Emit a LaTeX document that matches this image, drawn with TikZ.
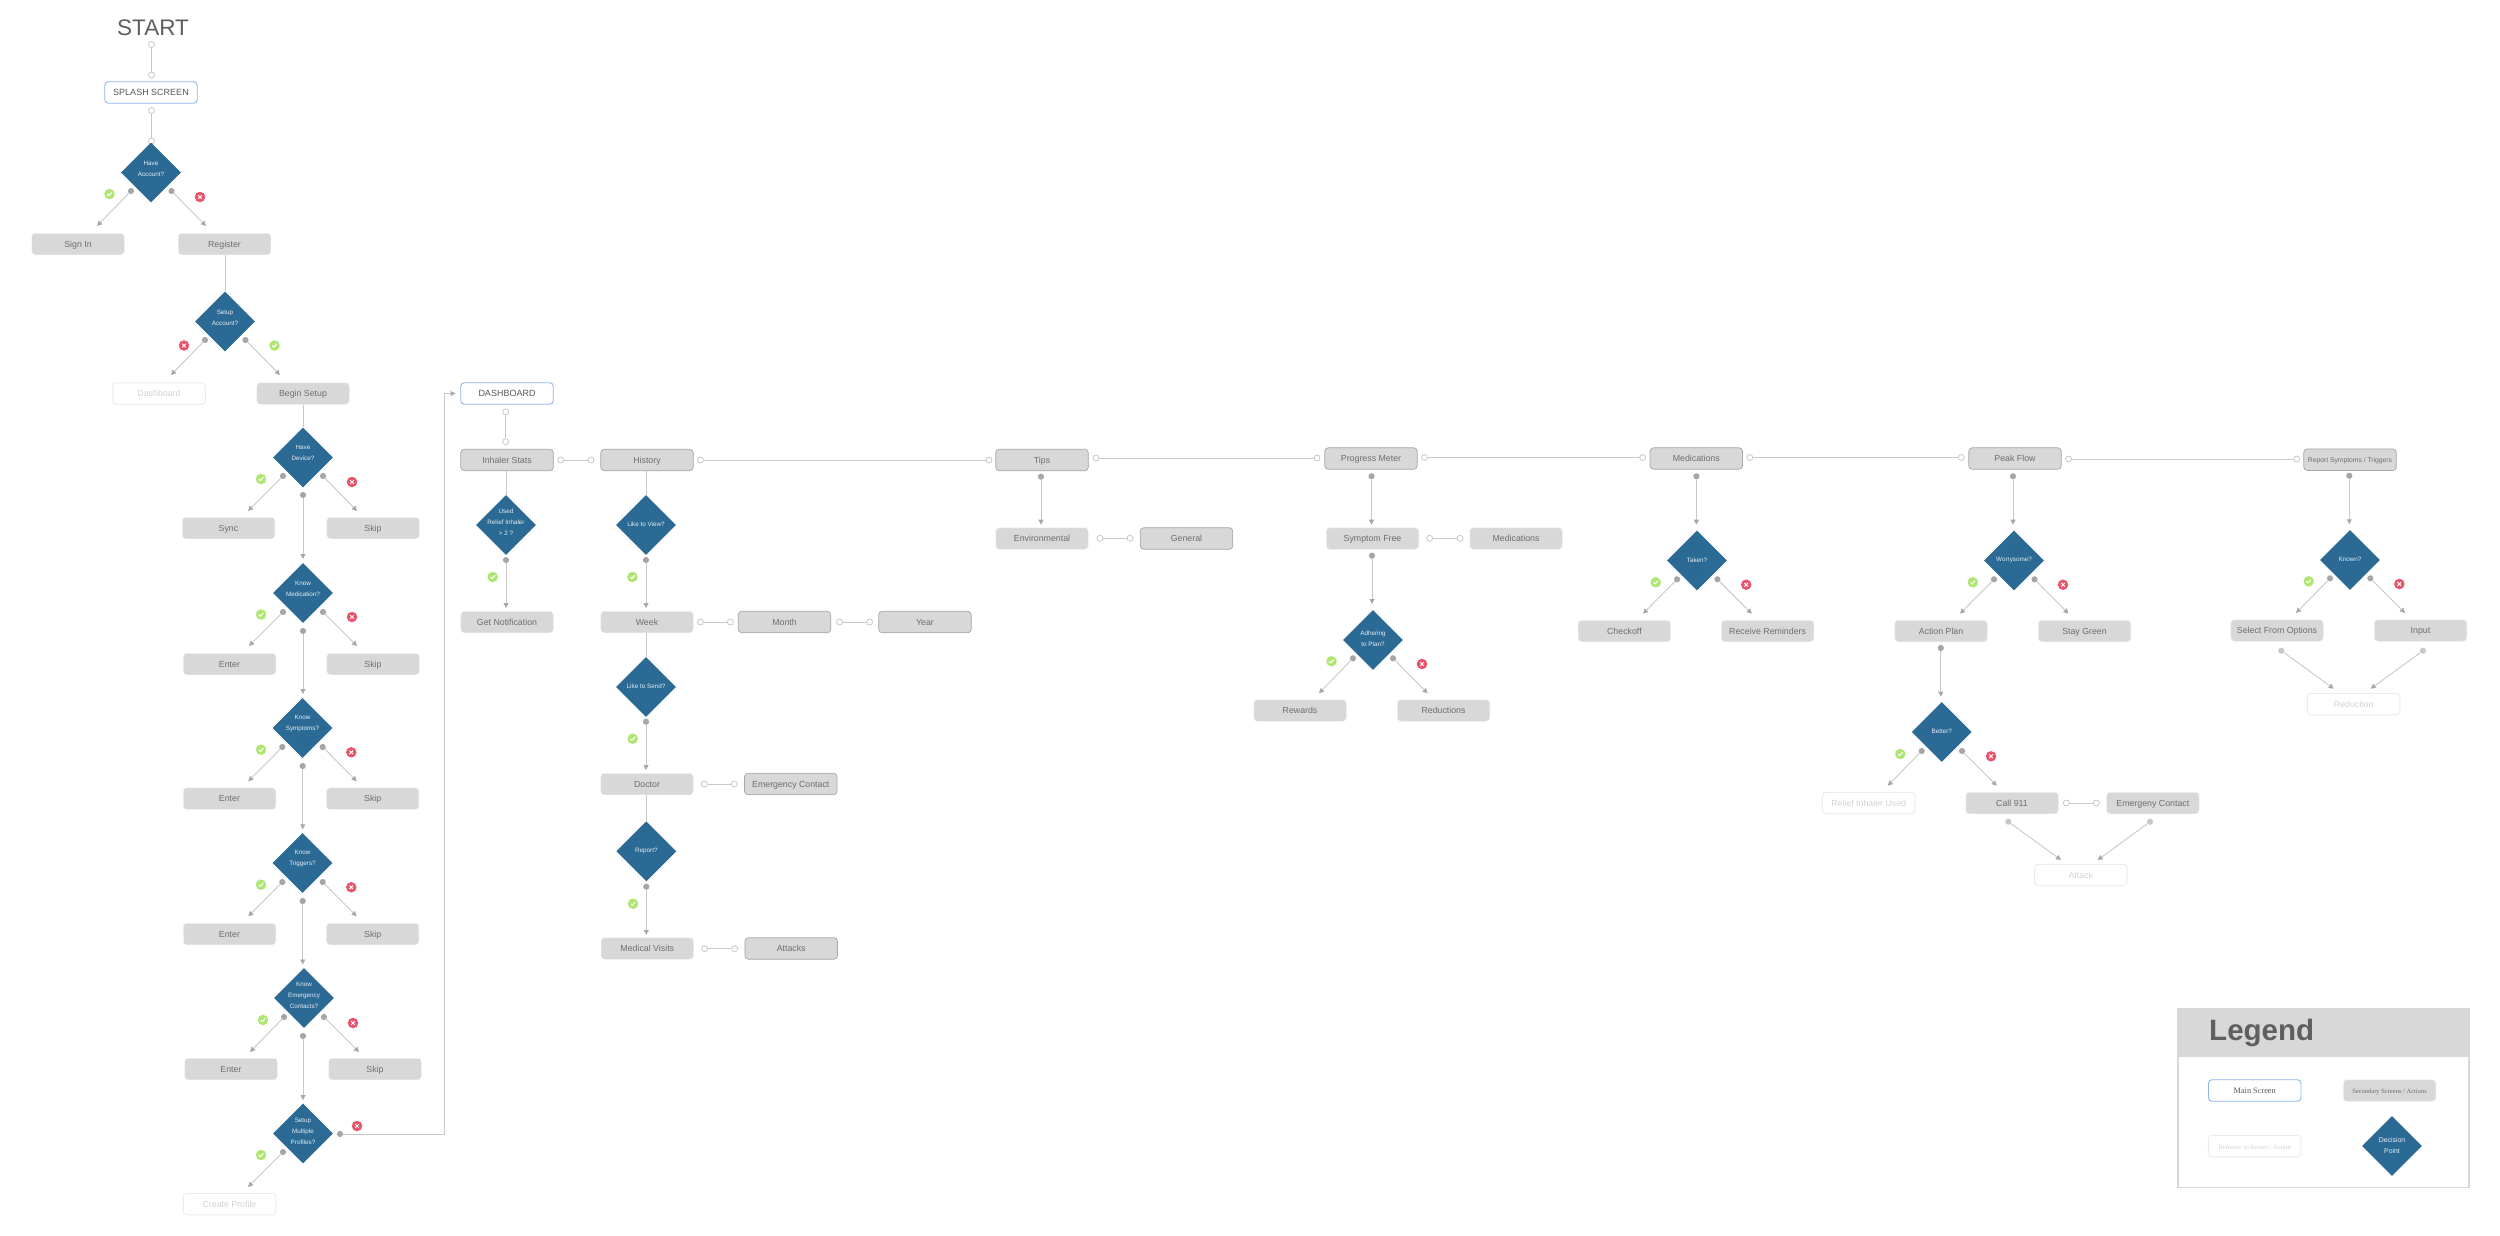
\documentclass[tikz,border=0pt]{standalone}
\usepackage{fontspec}
\setmainfont{Liberation Sans}
\newfontfamily\timesf{Liberation Serif}
\usetikzlibrary{shapes.geometric,arrows.meta}
\definecolor{boxfill}{HTML}{D8D8D8}
\definecolor{txt}{HTML}{6E6E6E}
\definecolor{reftxt}{HTML}{D2D2D2}
\definecolor{refedge}{HTML}{ECECEC}
\definecolor{mainedge}{HTML}{8FB5F2}
\definecolor{outedge}{HTML}{A6A6A6}
\definecolor{decfill}{HTML}{2B6A94}
\definecolor{dectxt}{HTML}{E4EEF5}
\definecolor{linec}{HTML}{C8C8C8}
\definecolor{tipc}{HTML}{A8A8A8}
\definecolor{dotc}{HTML}{A6A6A6}
\definecolor{dotlight}{HTML}{C8C8C8}
\definecolor{okc}{HTML}{AEE573}
\definecolor{noc}{HTML}{E9536B}
\definecolor{heading}{HTML}{5F5F5F}
\tikzset{
  boxbase/.style={rounded corners=3.5pt,minimum width=92.5pt,minimum height=21.5pt,inner sep=0pt,text height=7.5pt,text depth=1.5pt,font=\fontsize{8.8}{10}\selectfont},
  sbox/.style={boxbase,fill=boxfill,draw=boxfill!40!white,line width=0.5pt,text=txt},
  obox/.style={boxbase,fill=boxfill,draw=outedge,line width=0.7pt,text=txt},
  mbox/.style={boxbase,fill=white,draw=mainedge,line width=0.9pt,text=txt!80!black},
  rbox/.style={boxbase,fill=white,draw=refedge,line width=1pt,text=reftxt},
  dec/.style={diamond,shape aspect=1,fill=decfill,minimum width=60pt,minimum height=60pt,inner sep=0pt},
  declab/.style={align=center,text=dectxt,inner sep=0pt,font=\fontsize{6.3}{11}\selectfont},
  openpin/.style={circle,draw=linec,fill=white,line width=0.8pt,minimum size=6pt,inner sep=0pt},
  fullpin/.style={circle,fill=dotc,minimum size=6.2pt,inner sep=0pt},
  lightpin/.style={circle,fill=dotlight,minimum size=6.2pt,inner sep=0pt},
  plainlink/.style={draw=linec,line width=0.9pt},
  flow/.style={draw=linec,line width=0.9pt,-{Triangle[length=5pt,width=5pt,color=tipc]}},
  okdisc/.style={circle,fill=okc,minimum size=10.5pt,inner sep=0pt},
  nodisc/.style={circle,fill=noc,minimum size=10.5pt,inner sep=0pt},
  markline/.style={draw=white,line width=1pt}
}
% decision diamond: optional argument lifts the label
\newcommand{\decis}[5][0]{\node[dec,label={[declab,yshift=#1pt]center:{#5}}] (#2) at (#3,#4) {};}
% two open pins and their link
\newcommand{\olink}[6]{\node[openpin] (#1) at (#2,#3) {};\node[openpin] (#4) at (#5,#6) {};\draw[plainlink] (#1) -- (#4);}
% filled pin with arrow to a free end
\newcommand{\farrow}[5]{\node[fullpin] (#1) at (#2,#3) {};\coordinate (#1t) at (#4,#5);\draw[flow] (#1) -- (#1t);}
\newcommand{\larrow}[5]{\node[lightpin] (#1) at (#2,#3) {};\coordinate (#1t) at (#4,#5);\draw[flow] (#1) -- (#1t);}
\newcommand{\okmark}[3]{\node[okdisc] (#1) at (#2,#3) {};\draw[markline] ([shift={(-2.3,0)}]#1.center) -- ([shift={(-0.7,1.6)}]#1.center) -- ([shift={(2.4,-1.7)}]#1.center);}
\newcommand{\nomark}[3]{\node[nodisc] (#1) at (#2,#3) {};\draw[markline] ([shift={(-1.8,-1.8)}]#1.center) -- ([shift={(1.8,1.8)}]#1.center) ([shift={(-1.8,1.8)}]#1.center) -- ([shift={(1.8,-1.8)}]#1.center);}
\begin{document}
\begin{tikzpicture}[x=1pt,y=-1pt]
\useasboundingbox (0,0) rectangle (2500,1236);
% ---------- onboarding column
\node[text=heading,inner sep=0pt,font=\fontsize{22.5}{24}\selectfont] (start) at (153,28) {START};
\olink{sa}{151.5}{44.5}{sb}{151.5}{75}
\node[mbox,font=\fontsize{9}{10}\selectfont] (splash) at (151,92.5) {SPLASH SCREEN};
\olink{sc}{151.5}{110.5}{sd}{151.5}{141}
\decis[4]{haveacc}{151}{172.5}{Have\\Account?}
\farrow{ha1}{131}{191}{97}{226}
\farrow{ha2}{171.5}{191}{206}{226}
\okmark{ha3}{109.5}{194}
\nomark{ha4}{200}{197}
\node[sbox] (signin) at (78,244) {Sign In};
\node[sbox] (register) at (224.5,244) {Register};
\decis[4]{setupacc}{225}{321.5}{Setup\\Account?}
\draw[plainlink] (setupacc.north |- register.south) -- (setupacc.north);
\farrow{sa1}{205}{340}{171}{375}
\farrow{sa2}{245.5}{340}{280}{375}
\nomark{sa3}{184}{345.5}
\okmark{sa4}{274.5}{345.5}
\node[rbox] (dashref) at (159,393.5) {Dashboard};
\node[sbox] (begin) at (303,393.5) {Begin Setup};
\decis[4.5]{havedev}{303}{457.5}{Have\\Device?}
\draw[plainlink] (havedev.north |- begin.south) -- (havedev.north);
\farrow{hd1}{283}{476}{248}{511}
\farrow{hd2}{323}{476}{357}{511}
\farrow{hd3}{303}{495}{303}{559}
\okmark{hd4}{261}{479}
\nomark{hd5}{352}{482}
\node[sbox] (sync) at (228.5,528) {Sync};
\node[sbox] (skip1) at (373,528) {Skip};
% know medication
\decis[4.5]{kmed}{303}{593}{Know\\Medication?}
\farrow{km1}{283}{612}{249}{646}
\farrow{km2}{323}{612}{357}{646}
\farrow{km3}{303}{631}{303}{694}
\okmark{km4}{261}{614.5}
\nomark{km5}{352}{617}
\node[sbox] (enter2) at (229.5,664) {Enter};
\node[sbox] (skip2) at (373,664) {Skip};
% know symptoms
\decis[4.5]{ksym}{302.5}{728}{Know\\Symptoms?}
\farrow{ks1}{282.3}{747}{248.3}{781.3}
\farrow{ks2}{322.7}{747}{356.7}{781.3}
\farrow{ks3}{302.7}{766}{302.7}{829.3}
\okmark{ks4}{261}{749.7}
\nomark{ks5}{351.3}{752.3}
\node[sbox] (enter3) at (229.5,798.7) {Enter};
\node[sbox] (skip3) at (372.7,798.7) {Skip};
% know triggers
\decis[4.5]{ktrg}{302.5}{863}{Know\\Triggers?}
\farrow{kt1}{282.3}{882}{248.3}{916.3}
\farrow{kt2}{322.7}{882}{356.7}{916.3}
\farrow{kt3}{302.7}{901}{302.7}{964.5}
\okmark{kt4}{261}{884.7}
\nomark{kt5}{351.3}{887.3}
\node[sbox] (enter4) at (229.5,934) {Enter};
\node[sbox] (skip4) at (372.7,934) {Skip};
% know emergency contacts
\decis[2.5]{kemg}{304}{998}{Know\\Emergency\\Contacts?}
\farrow{ke1}{284}{1017}{250}{1052}
\farrow{ke2}{324}{1017}{359}{1052}
\farrow{ke3}{303}{1036}{303}{1100}
\okmark{ke4}{263}{1020}
\nomark{ke5}{353}{1023}
\node[sbox] (enter5) at (231,1069) {Enter};
\node[sbox] (skip5) at (375,1069) {Skip};
% multiple profiles
\decis[2.5]{multi}{303}{1133.5}{Setup\\Multiple\\Profiles?}
\farrow{mp1}{283}{1152}{248}{1187}
\okmark{mp2}{261}{1155}
\nomark{mp3}{357}{1126}
\node[rbox] (create) at (229.5,1204) {Create Profile};
\node[fullpin] (mp4) at (340,1134) {};
\coordinate (mp5) at (444.5,1134);
\coordinate (mp6) at (444.5,393.5);
\coordinate (mp7) at (455.5,393.5);
\draw[flow] (mp4) -- (mp5) -- (mp6) -- (mp7);
% ---------- dashboard
\node[mbox,font=\fontsize{9}{10}\selectfont] (dash) at (507,393.5) {DASHBOARD};
\olink{da}{505.7}{411.7}{db}{505.7}{441.7}
\node[obox] (inh) at (507,460) {Inhaler Stats};
\decis[2.5]{used}{506}{525}{Used\\Relief Inhaler\\> 2 ?}
\draw[plainlink] (used.north |- inh.south) -- (used.north);
\farrow{us1}{506}{560}{506}{608}
\okmark{us2}{492.7}{577}
\node[sbox] (notif) at (507,622) {Get Notification};
\olink{ia}{560.7}{460}{ib}{591}{460}
% history
\node[obox] (hist) at (647,460) {History};
\decis[0.7]{view}{646}{525}{Like to View?}
\draw[plainlink] (view.north |- hist.south) -- (view.north);
\farrow{vw1}{646}{560}{646}{608}
\okmark{vw2}{632.5}{577}
\node[sbox] (week) at (647,622) {Week};
\olink{wa}{700.4}{622}{wb}{730.4}{622}
\node[obox] (month) at (784.5,622) {Month};
\olink{wc}{839.6}{622}{wd}{869.6}{622}
\node[obox] (year) at (925,622) {Year};
\decis[0.7]{send}{646}{687}{Like to Send?}
\draw[plainlink] (send.north |- week.south) -- (send.north);
\farrow{sn1}{646}{721.7}{646}{770}
\okmark{sn2}{632.7}{738.7}
\node[sbox] (doctor) at (647,784) {Doctor};
\olink{dra}{704.3}{784}{drb}{734.3}{784}
\node[obox] (emg1) at (790.8,784) {Emergency Contact};
\decis[0.7]{report}{646.3}{851.3}{Report?}
\draw[plainlink] (report.north |- doctor.south) -- (report.north);
\farrow{rp1}{646.3}{886.7}{646.3}{935}
\okmark{rp2}{633}{903.7}
\node[sbox] (visits) at (647.3,948.5) {Medical Visits};
\olink{mva}{704.7}{948.7}{mvb}{734.7}{948.7}
\node[obox] (attacks) at (791.2,948.5) {Attacks};
% tips
\olink{ha}{700.4}{460}{hb}{989}{460}
\node[obox] (tips) at (1042,460) {Tips};
\farrow{tp1}{1041}{476.7}{1041}{524.7}
\node[sbox] (env) at (1042,538.5) {Environmental};
\olink{ea}{1100}{538.3}{eb}{1130}{538.3}
\node[obox] (general) at (1186.5,538.5) {General};
% progress meter
\olink{ta}{1096}{458}{tb}{1317}{458}
\node[obox] (prog) at (1371,458.5) {Progress Meter};
\farrow{pg1}{1371.5}{476.3}{1371.5}{524.7}
\node[sbox] (free) at (1372.5,538.5) {Symptom Free};
\olink{fa}{1429.6}{538.3}{fb}{1460}{538.3}
\node[sbox] (med1) at (1516,538.5) {Medications};
\farrow{fr1}{1372}{555.7}{1372}{604}
\decis[1.7]{adh}{1373}{640}{Adhering\\to Plan?}
\farrow{ad1}{1352.9}{658.3}{1319}{693.3}
\farrow{ad2}{1393}{658.3}{1427.6}{693.3}
\okmark{ad3}{1331.5}{661.3}
\nomark{ad4}{1422}{664}
\node[sbox] (rewards) at (1300,710.5) {Rewards};
\node[sbox] (reduct) at (1443.5,710.5) {Reductions};
% medications
\olink{pa}{1424.5}{457.5}{pb}{1642.6}{457.5}
\node[obox] (med2) at (1696.3,458.5) {Medications};
\farrow{md1}{1696.4}{476.3}{1696.4}{524.7}
\decis[0.3]{taken}{1697}{560.5}{Taken?}
\farrow{tk1}{1677}{579.3}{1643}{613.7}
\farrow{tk2}{1717.4}{579.3}{1751.8}{613.7}
\okmark{tk3}{1655.7}{582.3}
\nomark{tk4}{1746.2}{584.7}
\node[sbox] (check) at (1624.4,631) {Checkoff};
\node[sbox] (remind) at (1767.6,631) {Receive Reminders};
% peak flow
\olink{mda}{1749.8}{457.5}{mdb}{1961.3}{457.5}
\node[obox] (peak) at (2015,458.5) {Peak Flow};
\farrow{pk1}{2013}{476.3}{2013}{524.7}
\decis[0.3]{worry}{2014}{560.5}{Worrysome?}
\farrow{wr1}{1994}{579.3}{1960}{613.7}
\farrow{wr2}{2034.5}{579.3}{2068.5}{613.7}
\okmark{wr3}{1972.8}{582.3}
\nomark{wr4}{2063}{584.7}
\node[sbox] (action) at (1941,631) {Action Plan};
\node[sbox] (green) at (2084.5,631) {Stay Green};
\farrow{ac1}{1940.8}{648}{1940.8}{696.7}
\decis[0.3]{better}{1941.7}{732}{Better?}
\farrow{bt1}{1921.7}{751}{1887.7}{785.7}
\farrow{bt2}{1962}{751}{1996.7}{785.7}
\okmark{bt3}{1900.3}{754}
\nomark{bt4}{1991}{756.3}
\node[rbox] (relief) at (1868.7,803) {Relief Inhaler Used};
\node[sbox] (call) at (2012,803) {Call 911};
\olink{ca}{2066.3}{803}{cb}{2096.3}{803}
\node[sbox] (emg2) at (2152.8,803) {Emergeny Contact};
\larrow{cc}{2008.3}{821.7}{2061}{860}
\larrow{ce}{2150}{821.7}{2097.7}{860}
\node[rbox] (attack) at (2080.8,875) {Attack};
% report symptoms
\olink{pfa}{2068.5}{459}{pfb}{2296.7}{459}
\node[obox,font=\fontsize{6.75}{8}\selectfont] (rsym) at (2350,459.7) {Report Symptoms / Triggers};
\farrow{rs1}{2349.3}{475.7}{2349.3}{524.3}
\decis[0.3]{known}{2350}{560}{Known?}
\farrow{kn1}{2330}{578.3}{2296}{613}
\farrow{kn2}{2370.3}{578.3}{2405}{613}
\okmark{kn3}{2308.7}{581.3}
\nomark{kn4}{2399.3}{584}
\node[sbox] (select) at (2277,630.5) {Select From Options};
\node[sbox] (input) at (2420.5,630.5) {Input};
\larrow{si}{2281.3}{650.7}{2333.7}{688.7}
\larrow{ii}{2423}{650.7}{2370.7}{688.7}
\node[rbox] (reduction) at (2353.7,704) {Reduction};
% ---------- legend
\node[draw=boxfill,line width=1.5pt,fill=white,minimum width=291pt,minimum height=178.5pt,inner sep=0pt] (legend) at (2323.5,1098) {};
\node[fill=boxfill,minimum width=292.5pt,minimum height=49.5pt,inner sep=0pt] (leghead) at (2323.5,1032.5) {};
\node[anchor=base west,inner sep=0pt,text=heading,font=\fontsize{29.5}{32}\selectfont\bfseries] (legtitle) at (2209,1040.5) {Legend};
\node[mbox,font=\timesf\fontsize{8.3}{10}\selectfont] (lmain) at (2254.7,1090.5) {Main Screen};
\node[sbox,font=\timesf\fontsize{6.5}{8}\selectfont] (lsec) at (2389.5,1090.5) {Secondary Screens / Actions};
\node[rbox,font=\timesf\fontsize{6.5}{8}\selectfont] (lref) at (2254.7,1146) {Refrence to Screen / Action};
\node[dec,label={[declab,font=\fontsize{6.9}{11}\selectfont]center:{Decision\\Point}}] (ldec) at (2392,1146) {};
\end{tikzpicture}
\end{document}
